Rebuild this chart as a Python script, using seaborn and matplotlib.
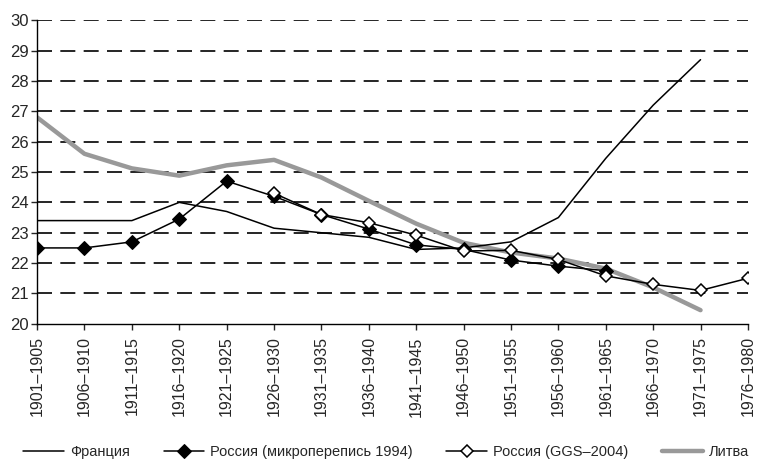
import pandas as pd
import seaborn as sns
import matplotlib.pyplot as plt
import numpy as np

periods = ["1901–1905", "1906–1910", "1911–1915", "1916–1920", "1921–1925",
           "1926–1930", "1931–1935", "1936–1940", "1941–1945", "1946–1950",
           "1951–1955", "1956–1960", "1961–1965", "1966–1970", "1971–1975",
           "1976–1980"]

france = [23.4, 23.4, 23.4, 24.0, 23.7, 23.15, 23.0, 22.85, 22.45, 22.5,
          22.7, 23.5, 25.45, 27.2, 28.7, None]
russia_micro = [22.5, 22.5, 22.7, 23.45, 24.7, 24.2, 23.6, 23.12, 22.6, 22.45,
                22.1, 21.9, 21.75, None, None, None]
russia_ggs = [None, None, None, None, None, 24.3, 23.6, 23.33, 22.92, 22.4,
              22.42, 22.12, 21.58, 21.3, 21.1, 21.5]
lithuania = [26.8, 25.6, 25.12, 24.88, 25.22, 25.4, 24.82, 24.05, 23.3, 22.67,
             22.35, 22.15, 21.82, 21.2, 20.45, None]

names = ["Франция", "Россия (микроперепись 1994)", "Россия (GGS–2004)", "Литва"]

df = pd.DataFrame({"pos": np.arange(len(periods))})
df[names[0]] = pd.to_numeric(pd.Series(france), errors="coerce")
df[names[1]] = pd.to_numeric(pd.Series(russia_micro), errors="coerce")
df[names[2]] = pd.to_numeric(pd.Series(russia_ggs), errors="coerce")
df[names[3]] = pd.to_numeric(pd.Series(lithuania), errors="coerce")

sns.set_style("white")
plt.rcParams['font.family'] = ['Liberation Sans', 'DejaVu Sans']

fig = plt.figure(figsize=(7.57, 4.70), dpi=100)
ax = fig.add_axes([0.049, 0.311, 0.939, 0.646])

sns.lineplot(data=df, x="pos", y=names[3], ax=ax, color="#999999", lw=3.2,
             label=names[3], zorder=2)
sns.lineplot(data=df, x="pos", y=names[0], ax=ax, color="black", lw=1.1,
             label=names[0], zorder=3)
sns.lineplot(data=df, x="pos", y=names[1], ax=ax, color="black", lw=1.1,
             marker="D", markersize=7, markerfacecolor="black",
             markeredgecolor="black", label=names[1], zorder=4)
sns.lineplot(data=df, x="pos", y=names[2], ax=ax, color="black", lw=1.1,
             marker="D", markersize=6.5, markerfacecolor="white",
             markeredgecolor="black", markeredgewidth=1.1, label=names[2], zorder=4)

ax.set_xlim(0, len(periods) - 1)
ax.set_ylim(20, 30)
ax.set_xticks(np.arange(len(periods)))
ax.set_xticklabels(periods, rotation=90, fontsize=11.5)
ax.set_yticks(np.arange(20, 31))
ax.tick_params(axis="y", labelsize=12, length=4, width=1, direction="out", pad=2, left=True)
ax.tick_params(axis="x", length=4, width=1, direction="out", pad=5, bottom=True)
ax.set_xlabel("")
ax.set_ylabel("")

for v in range(21, 31):
    ax.axhline(v, color="black", lw=1.2, ls=(0, (9, 5)), zorder=1)

sns.despine(ax=ax)
for s in ["left", "bottom"]:
    ax.spines[s].set_color("black")
    ax.spines[s].set_linewidth(1)

handles, labels = ax.get_legend_handles_labels()
order = [labels.index(n) for n in names]
ax.get_legend().remove()
fig.legend([handles[i] for i in order], [labels[i] for i in order],
           loc="center", bbox_to_anchor=(0.51, 0.038), ncol=4, frameon=False,
           fontsize=10.5, handlelength=2.8, columnspacing=2.3, handletextpad=0.4)

fig.savefig("out.png", dpi=100)
